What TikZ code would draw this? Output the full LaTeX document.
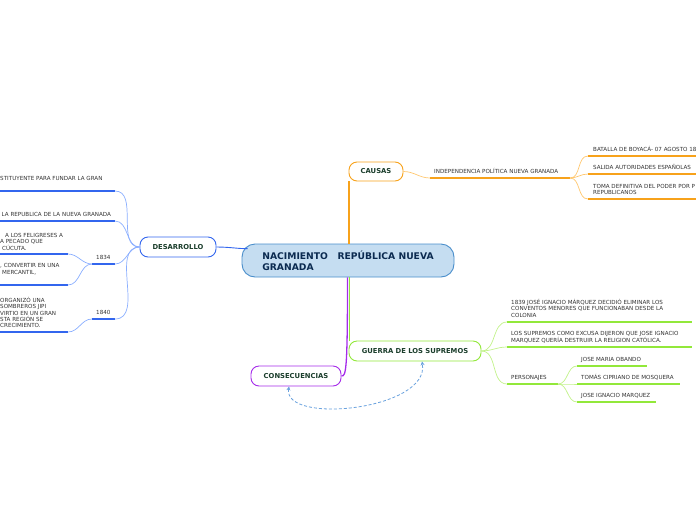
\documentclass[tikz,border=0pt]{standalone}
\usepackage{fontspec}
\setmainfont{DejaVu Sans}
\usetikzlibrary{arrows.meta}
\definecolor{txtgray}{HTML}{333333}
\definecolor{nodetext}{HTML}{1A3D2B}
\definecolor{titletext}{HTML}{0B2A50}
\definecolor{mainfill}{HTML}{C5DDF1}
\definecolor{mainborder}{HTML}{4A8ECB}
\definecolor{orA}{HTML}{F7A21B}
\definecolor{orL}{HTML}{FFC76E}
\definecolor{blA}{HTML}{3366EE}
\definecolor{blL}{HTML}{8AAEFF}
\definecolor{grA}{HTML}{92E83A}
\definecolor{grL}{HTML}{C2F28A}
\definecolor{puA}{HTML}{A52BEA}
\definecolor{dashc}{HTML}{6AA2DE}
\tikzset{
  mnode/.style={draw, rounded corners=8pt, line width=0.9pt, fill=white,
    font=\bfseries\fontsize{6.8}{8}\selectfont, text=nodetext, inner sep=0pt},
  txt/.style={font=\fontsize{5.6}{6.4}\selectfont, text=txtgray, align=left,
    inner sep=0pt, text depth=0pt, anchor=south west},
  uline/.style={line width=1.6pt},
  conn/.style={line width=0.7pt},
  trunk/.style={line width=1.3pt},
}
\begin{document}
\begin{tikzpicture}[x=1pt,y=-1pt]
\useasboundingbox (0,0) rectangle (696,520);

% ---------- main nodes ----------
\node[draw=mainborder, fill=mainfill, line width=0.9pt, rounded corners=13pt,
  minimum width=212pt, minimum height=33pt, inner sep=0pt, align=left,
  font=\bfseries\fontsize{9.2}{11}\selectfont, text=titletext]
  (main) at (348,260.5) {NACIMIENTO\ \ \ REPÚBLICA NUEVA\\GRANADA};
\node[mnode, draw=orA, minimum width=54pt, minimum height=19pt] (causas) at (376,171.5) {CAUSAS};
\node[mnode, draw=blA, minimum width=76pt, minimum height=20pt] (desa) at (178,247) {DESARROLLO};
\node[mnode, draw=grA, minimum width=132pt, minimum height=20pt] (guerra) at (415,351) {GUERRA DE LOS SUPREMOS};
\node[mnode, draw=puA, minimum width=90pt, minimum height=20pt] (cons) at (296,376) {CONSECUENCIAS};

% ---------- main connectors ----------
\draw[trunk, orA] ([xshift=1pt]main.north) -- ([xshift=1pt]main.north |- causas.south);
\draw[trunk, grA] ([xshift=1.5pt]main.south) -- ([xshift=1.5pt]main.south |- guerra.north);
\draw[trunk, puA] ([xshift=-0.5pt]main.south) .. controls (347.5,372) and (346,376) .. (cons.east);
\draw[conn, blA, line width=0.9pt] (desa.east) .. controls (230,247) and (240,249) .. ([shift={(6,5)}]main.north west);

% ---------- CAUSAS branch ----------
\coordinate (indL) at (430,178); \coordinate (indR) at (570,178);
\node[txt] (ind) at (434,174) {INDEPENDENCIA POLÍTICA NUEVA GRANADA};
\draw[uline, orA] (indL) -- (indR);
\draw[conn, orL] (causas.east) to[out=0,in=180] (indL);

\coordinate (batL) at (588,156); \coordinate (batR) at (697,156);
\node[txt] (bat) at (593,152) {BATALLA DE BOYACÁ- 07 AGOSTO 18};
\coordinate (salL) at (588,174); \coordinate (salR) at (697,174);
\node[txt] (sal) at (593,170) {SALIDA AUTORIDADES ESPAÑOLAS};
\coordinate (tomL) at (588,199); \coordinate (tomR) at (697,199);
\node[txt] (tom) at (593,195) {TOMA DEFINITIVA DEL PODER POR P\\REPUBLICANOS};
\foreach \a/\b in {batL/batR, salL/salR, tomL/tomR}{
  \draw[uline, orA] (\a) -- (\b);
  \draw[conn, orL] (indR) to[out=0,in=180] (\a);
}

% ---------- GUERRA branch ----------
\coordinate (c39L) at (507,322); \coordinate (c39R) at (692,322);
\node[txt] (c39) at (511,317.5) {1839 JOSÉ IGNACIO MÁRQUEZ DECIDIÓ ELIMINAR LOS\\CONVENTOS MENORES QUE FUNCIONABAN DESDE LA\\COLONIA};
\coordinate (supL) at (507,347); \coordinate (supR) at (692,347);
\node[txt] (sup) at (511,342.5) {LOS SUPREMOS COMO EXCUSA DIJERON QUE JOSE IGNACIO\\MARQUEZ QUERÍA DESTRUIR LA RELIGION CATÓLICA.};
\coordinate (perL) at (507,384); \coordinate (perR) at (558,384);
\node[txt] (per) at (511,380) {PERSONAJES};
\foreach \a/\b in {c39L/c39R, supL/supR, perL/perR}{
  \draw[uline, grA] (\a) -- (\b);
  \draw[conn, grL] (guerra.east) to[out=0,in=180] (\a);
}
\coordinate (obaL) at (577,366); \coordinate (obaR) at (647,366);
\node[txt] (oba) at (581,361.5) {JOSE MARIA OBANDO};
\coordinate (mosL) at (577,384); \coordinate (mosR) at (680,384);
\node[txt] (mos) at (581,380) {TOMÁS CIPRIANO DE MOSQUERA};
\coordinate (marL) at (577,402); \coordinate (marR) at (656,402);
\node[txt] (mar) at (581,397.5) {JOSE IGNACIO MARQUEZ};
\foreach \a/\b in {obaL/obaR, mosL/mosR, marL/marR}{
  \draw[uline, grA] (\a) -- (\b);
  \draw[conn, grL] (perR) to[out=0,in=180] (\a);
}

% ---------- DESARROLLO branch ----------
\coordinate (l1L) at (-1,191); \coordinate (l1R) at (115,191);
\node[txt] (l1) at (0,181) {STITUYENTE PARA FUNDAR LA GRAN};
\coordinate (l2L) at (-1,221); \coordinate (l2R) at (115,221);
\node[txt] (l2) at (1.5,216.5) {LA REPUBLICA DE LA NUEVA GRANADA};
\coordinate (y34L) at (92,264); \coordinate (y34R) at (115,264);
\node[txt] (y34) at (96,260) {1834};
\coordinate (y40L) at (92,319); \coordinate (y40R) at (115,319);
\node[txt] (y40) at (96,315) {1840};
\foreach \a/\b in {l1L/l1R, l2L/l2R, y34L/y34R, y40L/y40R}{
  \draw[uline, blA] (\a) -- (\b);
  \draw[conn, blL] (desa.west) to[out=180,in=0] (\b);
}
\coordinate (l3L) at (-1,254); \coordinate (l3R) at (68,254);
\node[txt] (l3) at (0,250.5) {\hspace*{5pt}A LOS FELIGRESES A\\A PECADO QUE\\\hspace*{2pt}CÚCUTA.};
\coordinate (l4L) at (-1,285); \coordinate (l4R) at (68,285);
\node[txt] (l4) at (0,274.5) {, CONVERTIR EN UNA\\\hspace*{2pt}MERCANTIL,};
\foreach \a/\b in {l3L/l3R, l4L/l4R}{
  \draw[uline, blA] (\a) -- (\b);
  \draw[conn, blL] (y34L) to[out=180,in=0] (\b);
}
\coordinate (l5L) at (-1,332); \coordinate (l5R) at (68,332);
\node[txt] (l5) at (0,328) {ORGANIZÓ UNA\\SOMBREROS JIPI\\VIRTIO EN UN GRAN\\STA REGIÓN SE\\CRECIMIENTO.};
\draw[uline, blA] (l5L) -- (l5R);
\draw[conn, blL] (y40L) to[out=180,in=0] (l5R);

% ---------- dashed relation ----------
\draw[dashc, line width=0.8pt, dash pattern=on 3pt off 2pt,
  {Stealth[length=4pt,width=4pt]}-{Stealth[length=4pt,width=4pt]}]
  ([xshift=-7pt]cons.south) .. controls (283,425) and (430,410) .. ([xshift=7pt]guerra.south);
\end{tikzpicture}
\end{document}
